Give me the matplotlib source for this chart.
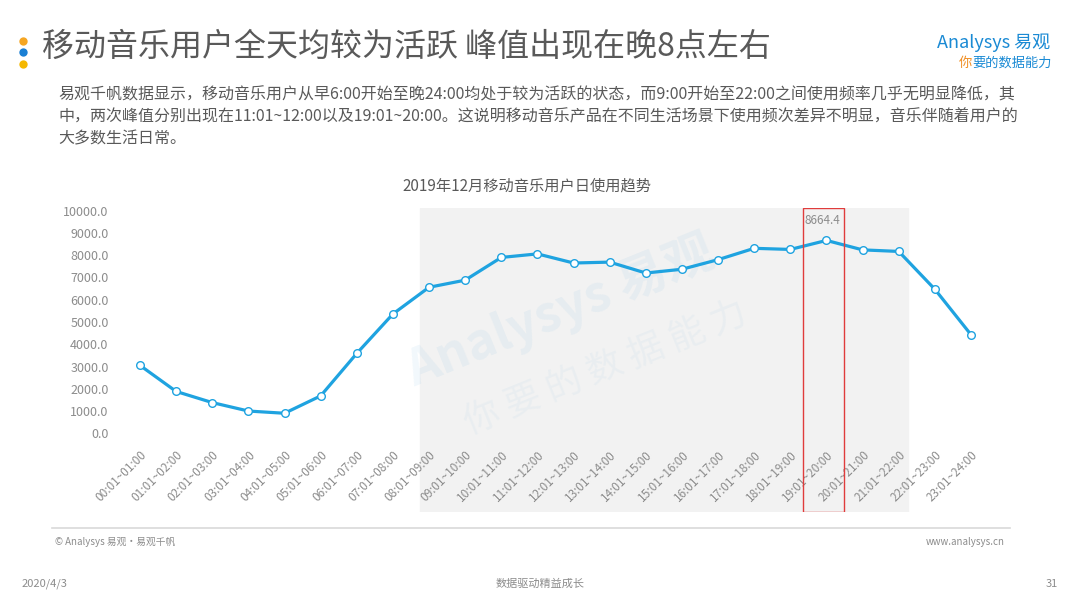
import matplotlib
matplotlib.use("Agg")
import matplotlib.pyplot as plt
from matplotlib.patches import Rectangle
import numpy as np

plt.rcParams['font.family'] = ['Noto Sans CJK SC', 'DejaVu Sans']

# 数据：2019年12月移动音乐用户日使用趋势
hours = ['00:01~01:00', '01:01~02:00', '02:01~03:00', '03:01~04:00', '04:01~05:00',
         '05:01~06:00', '06:01~07:00', '07:01~08:00', '08:01~09:00', '09:01~10:00',
         '10:01~11:00', '11:01~12:00', '12:01~13:00', '13:01~14:00', '14:01~15:00',
         '15:01~16:00', '16:01~17:00', '17:01~18:00', '18:01~19:00', '19:01~20:00',
         '20:01~21:00', '21:01~22:00', '22:01~23:00', '23:01~24:00']
users = [3050, 1880, 1380, 1000, 900, 1680, 3590, 5360, 6560, 6880, 7900, 8060,
         7650, 7690, 7200, 7370, 7800, 8310, 8260, 8664.4, 8240, 8170, 6470, 4430]
yticks = [0, 1000, 2000, 3000, 4000, 5000, 6000, 7000, 8000, 9000, 10000]
peak_idx = 19

W, H = 1080, 608
fig = plt.figure(figsize=(W / 100, H / 100), dpi=100)

def fx(px):
    return px / W

def fy(py):
    return 1 - py / H

blue = '#1fa3e0'
grey = '#8c8c8c'
dark = '#595959'

# 标题
for yy, c in [(41, '#f5a623'), (52, '#1a7fd4'), (64, '#f5b800')]:
    fig.add_artist(plt.Line2D([fx(23)], [fy(yy)], marker='o', markersize=6,
                              color=c, markeredgewidth=0))
fig.text(fx(42), fy(47), '移动音乐用户全天均较为活跃 峰值出现在晚8点左右',
         fontsize=23, color='#595959', va='center', ha='left')

# logo
fig.text(fx(1050), fy(43), 'Analysys 易观', fontsize=13, color='#1a8ad4',
         ha='right', va='center', style='italic')
fig.text(fx(972), fy(63), '你', fontsize=9.5, color='#f08c1e', ha='right',
         va='center', style='italic')
fig.text(fx(972), fy(63), '要的数据能力', fontsize=9.5, color='#1a8ad4',
         ha='left', va='center', style='italic')

# 说明文字
lines = ['易观千帆数据显示，移动音乐用户从早6:00开始至晚24:00均处于较为活跃的状态，而9:00开始至22:00之间使用频率几乎无明显降低，其',
         '中，两次峰值分别出现在11:01~12:00以及19:01~20:00。这说明移动音乐产品在不同生活场景下使用频次差异不明显，音乐伴随着用户的',
         '大多数生活日常。']
for i, s in enumerate(lines):
    fig.text(fx(58), fy(95 + 22 * i), s, fontsize=11.5, color=dark,
             ha='left', va='center')

# 图表区域
ax_l, ax_r, ax_t, ax_b = 112, 1010, 208, 512
ax = fig.add_axes([fx(ax_l), fy(ax_b), fx(ax_r - ax_l), (ax_b - ax_t) / H])
step = 36.13
x0 = 140
ax.set_xlim((ax_l - x0) / step, (ax_r - x0) / step)
ppv = 0.02226
zero_px = 433.3
ax.set_ylim(-(ax_b - zero_px) / ppv, (zero_px - ax_t) / ppv)
ax.patch.set_alpha(0)
for sp in ax.spines.values():
    sp.set_visible(False)

x = np.arange(len(users))
ax.axvspan((420 - x0) / step, (908 - x0) / step, color='#f2f2f2', zorder=0)

# 水印
ax.text(0.50, 0.66, 'Analysys 易观', transform=ax.transAxes, fontsize=36,
        color='#1a8ad4', alpha=0.06, rotation=22, ha='center', va='center',
        fontweight='bold', style='italic')
ax.text(0.55, 0.47, '你 要 的 数 据 能 力', transform=ax.transAxes, fontsize=26,
        color='#5aa6d6', alpha=0.06, rotation=22, ha='center', va='center')

ax.plot(x, users, color=blue, lw=2.3, marker='o', markersize=5.5,
        markerfacecolor='white', markeredgecolor=blue, markeredgewidth=1.0,
        zorder=3)

ax.add_patch(Rectangle((peak_idx - 0.65, ax.get_ylim()[0]), 1.13,
                       ax.get_ylim()[1] - ax.get_ylim()[0],
                       fill=False, edgecolor='#e03c3c', lw=1.0, zorder=4))
ax.annotate(f'{users[peak_idx]:.1f}', (peak_idx, users[peak_idx]),
            xytext=(-3, 14), textcoords='offset points', ha='center',
            va='center', fontsize=8.5, color=grey)

ax.set_yticks(yticks)
ax.set_yticklabels([f'{v:.1f}' for v in yticks])
ax.tick_params(axis='y', length=0, pad=2.5, labelsize=9, labelcolor=grey)

ax.spines['bottom'].set_position(('data', 0))
ax.set_xticks(x)
ax.set_xticklabels(hours, rotation=45, ha='right', rotation_mode='anchor')
ax.tick_params(axis='x', length=0, pad=11, labelsize=8.5, labelcolor=grey)

fig.text(fx(527), fy(186), '2019年12月移动音乐用户日使用趋势',
         ha='center', va='center', fontsize=11, color=dark)

# 页脚
fig.add_artist(plt.Line2D([fx(52), fx(1010)], [fy(528), fy(528)],
                          color='#d9d9d9', lw=1.2))
fig.text(fx(55), fy(542), '© Analysys 易观·易观千帆', fontsize=7, color=grey,
         va='center', ha='left')
fig.text(fx(1005), fy(542), 'www.analysys.cn', fontsize=7, color=grey,
         va='center', ha='right')
fig.text(fx(22), fy(584), '2020/4/3', fontsize=8, color=grey, va='center', ha='left')
fig.text(fx(540), fy(584), '数据驱动精益成长', fontsize=8, color=grey,
         va='center', ha='center')
fig.text(fx(1058), fy(584), '31', fontsize=8, color=grey, va='center', ha='right')

fig.savefig('out.png', dpi=100)
